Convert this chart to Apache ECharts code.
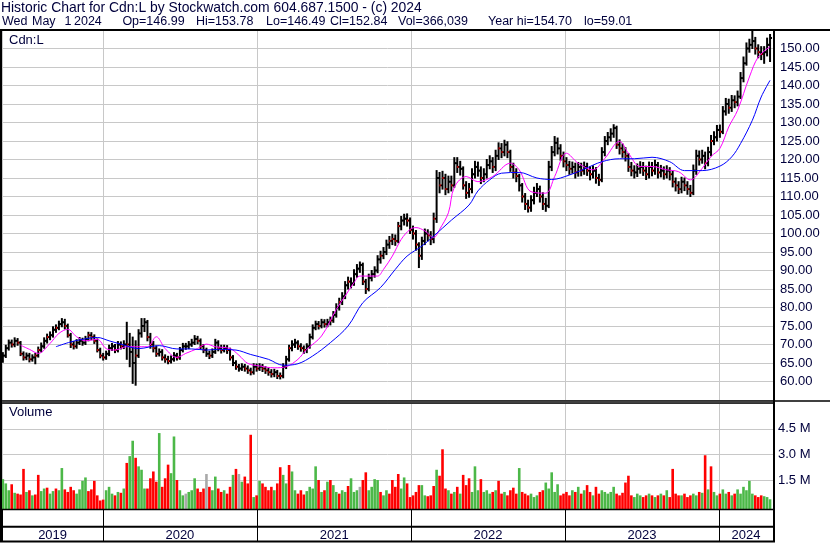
<!DOCTYPE html>
<html>
<head>
<meta charset="utf-8">
<title>Historic Chart for Cdn:L</title>
<script src="https://cdn.jsdelivr.net/npm/echarts@6/dist/echarts.min.js"></script>
<style>
  html, body { margin: 0; padding: 0; background: #fff; }
  #chart { width: 830px; height: 543px; }
</style>
</head>
<body>
<div id="chart"></div>
<script>
// weekly bars, first one in the week of 2019-05-08
const firstWeek = [2019, 4, 8]

const weekClose = [
  67, 69, 70.5, 70, 71, 70.5, 67.5, 66.5, 67, 66,
  66.5, 67, 68.5, 69.5, 71, 72, 72.5, 74, 74.5, 75.5,
  76, 75, 72.5, 70, 69.5, 70.5, 71, 70.5, 71.5, 72.5,
  72, 71, 68.5, 67, 66.5, 67.5, 69, 69.5, 68.5, 70,
  69.5, 70, 70, 68, 65, 67, 73, 75, 76, 72,
  70, 69, 67.5, 68, 66.5, 66, 65.5, 66, 67, 66.5,
  68.5, 69.5, 69.5, 70, 70.5, 71.5, 71, 69.5, 68.5, 67.5,
  67, 68, 70.5, 69, 68.5, 69, 68.5, 66.5, 65, 64,
  63.5, 64, 63.5, 63, 62.5, 64, 63.5, 64, 63.5, 63,
  62.5, 62, 62.5, 61.5, 61.5, 64, 66, 69, 70, 70.5,
  69.5, 69, 68.5, 69.5, 72, 74.5, 75.5, 75, 76, 75.5,
  76, 76.5, 78, 80, 81.5, 83, 86, 87, 86.5, 89,
  90.5, 91.5, 87, 85, 88, 89, 90, 93, 94, 95,
  97, 98, 98.5, 98, 102, 103.5, 104, 103.5, 101, 100,
  97, 94, 98, 100, 99.5, 98.5, 104, 115, 113, 115,
  112, 114, 113, 119, 118, 117.5, 113, 111, 112, 116,
  118, 117, 115, 116, 118.5, 119.5, 118, 121, 123, 122,
  124, 122, 118, 116.5, 115.5, 113, 110, 108, 107, 109,
  111, 112, 110, 108, 107.5, 118, 122, 124.5, 123, 121,
  119.5, 118.5, 117.5, 118, 116.5, 118, 117, 118, 117, 116,
  117, 115, 114.5, 122, 125, 126, 127, 128.5, 124, 123,
  122, 121, 118, 117, 116.5, 117.5, 118, 117, 116, 118,
  117, 118.5, 116.5, 117, 116, 117, 116, 114, 113, 112,
  114, 113, 112, 111, 117, 121, 120, 121, 119, 122,
  125, 126, 128, 127.5, 133, 135, 134, 136, 135.5, 137,
  142, 146, 150, 151, 152, 150, 149, 148.5, 149, 151,
  152.84
]

const weekLow = [
  65.2, 66.5, 68.5, 69.3, 69.4, 69.8, 67, 65.8, 65.9, 65.3,
  65.5, 64.8, 66.6, 68, 69, 70.4, 71.3, 72, 73.3, 74,
  74.8, 74.2, 72, 69.2, 68.8, 69, 70, 69.8, 70, 71,
  71.3, 70.3, 68, 66.4, 65.8, 66, 67, 68.4, 67.8, 68,
  68.8, 68.9, 66, 64, 59.5, 59, 66.5, 72, 73.5, 71,
  69, 68, 66.8, 66.9, 65.8, 65.2, 64.8, 65, 65.5, 65.8,
  66, 68, 68.7, 68.9, 69.5, 70, 70.2, 68.8, 67.8, 66.8,
  66.2, 66.5, 67.6, 68.3, 67.7, 68, 67.6, 65.8, 64.3, 63.3,
  62.8, 63, 62.8, 62.2, 61.8, 62, 62.8, 63, 62.7, 62.2,
  61.7, 61.2, 61.3, 60.8, 60.7, 61, 63.5, 65.5, 68.3, 69.2,
  68.7, 68.2, 67.6, 67.8, 69, 71.5, 74, 74.2, 74.5, 74.7,
  74.8, 75.3, 76, 77.4, 79.3, 80.8, 82.4, 85, 85.3, 86,
  88.2, 89.5, 86.2, 83.8, 84.5, 87.2, 88.2, 89.4, 92, 93.2,
  94.3, 96, 97, 96.8, 97.5, 101, 102.3, 102, 100, 98.5,
  95.5, 90.8, 93, 97, 98, 97, 97.5, 103, 111, 112,
  110.5, 111, 111.5, 112.5, 116.5, 115.8, 112, 109.5, 109.8, 111,
  115, 115.5, 113.5, 114, 115, 117.5, 116.5, 117, 120, 120.5,
  121, 120.5, 116.8, 115, 114, 111.5, 108.5, 106.5, 105.8, 106,
  108, 110, 108.5, 106.5, 106, 107, 117, 121, 121.5, 119.8,
  118, 117, 116, 116.3, 115, 115.5, 115.6, 116, 115.7, 114.5,
  115, 113.6, 113, 114, 121, 124, 125, 126, 123, 121.5,
  120.6, 119.6, 116.8, 115.6, 115, 115.4, 116.3, 115.7, 114.6, 115,
  115.6, 116, 115, 115.3, 114.7, 115, 114.5, 112.6, 111.5, 110.8,
  111, 111.6, 110.6, 110, 110.5, 116, 118.5, 119, 117.5, 118.3,
  121, 124, 125, 126, 127, 132, 132.5, 133, 134, 134.5,
  136.5, 141, 145.5, 149, 150, 148.5, 147.5, 147, 146, 148,
  146.49
]

const weekHigh = [
  67.8, 69.8, 71.2, 71.2, 71.8, 71.6, 70.8, 68, 67.7, 67.6,
  67.2, 67.6, 69.3, 70.4, 71.8, 72.8, 73.4, 74.8, 75.3, 76.3,
  77, 76.8, 75.5, 73, 70.8, 71.3, 71.9, 71.7, 72.2, 73.3,
  73.2, 72.6, 71.5, 69, 67.6, 68.2, 69.8, 70.3, 70, 70.8,
  70.7, 71, 76, 73, 72, 71, 74, 77, 77, 76.5,
  73, 70.8, 69.6, 68.8, 68.6, 67.2, 66.8, 66.9, 67.8, 67.6,
  69.2, 70.3, 70.3, 70.8, 71.4, 72.4, 72.2, 71.5, 70, 69,
  68.2, 68.8, 71.4, 71, 69.8, 69.8, 69.7, 69, 67, 65.6,
  64.6, 64.8, 64.6, 64.2, 63.6, 64.8, 64.7, 64.8, 64.6, 64,
  63.6, 63.2, 63.3, 63, 62.3, 64.8, 66.8, 69.8, 71, 71.4,
  71, 70.2, 69.6, 70.2, 72.8, 75.3, 76.3, 76.2, 76.8, 76.7,
  76.8, 77.4, 78.9, 81, 82.5, 84, 87, 88.2, 88, 90.2,
  91.6, 92.3, 92, 87.6, 89, 90, 91, 94, 95.2, 96.2,
  98.2, 99.2, 99.8, 99.6, 103, 104.6, 105.2, 105.3, 104.2, 102,
  100.8, 97.5, 99, 101.2, 101, 100.5, 105.5, 117, 116.5, 116.8,
  116, 115.5, 115.5, 120.5, 120.5, 119.5, 118, 114, 113.5, 117.5,
  119.5, 119.3, 118, 117.5, 120, 121, 120.5, 122.5, 124.5, 124.3,
  125.2, 124.8, 122.5, 119, 117.5, 116, 113.5, 110.8, 109, 110.2,
  112.5, 113.5, 112.8, 111, 109.5, 119.5, 123.5, 126.2, 125.8, 124,
  122, 120.5, 119.5, 119.3, 119, 119.2, 119, 119.3, 119, 118,
  118.3, 117.8, 116, 123.2, 126.2, 127.3, 128.3, 129.4, 129, 125.3,
  124.2, 123.2, 121.6, 119.2, 118.3, 118.8, 119.4, 119.2, 118.2, 119.3,
  119.2, 119.8, 119.2, 118.4, 118, 118.3, 117.8, 116.8, 115, 114,
  115.2, 115, 114, 113, 118.5, 122.5, 122.3, 122.5, 122, 123.3,
  126.5, 127.5, 129.2, 129.3, 134.3, 136.5, 136.3, 137.3, 137.2, 138.5,
  143.5, 147.7, 151.5, 152.5, 154.7, 153, 151, 150.5, 150.5, 152.8,
  153.78
]

// millions of shares
const weekVolume = [
  1.55, 1.3, 0.9, 1.25, 0.75, 0.7, 0.65, 2.15, 0.8, 0.9,
  0.6, 0.65, 1.8, 0.85, 1.0, 1.05, 0.7, 0.85, 1.0, 0.9,
  2.2, 0.95, 0.8, 1.1, 0.9, 0.7, 0.95, 1.45, 1.65, 0.85,
  0.95, 1.45, 0.6, 0.3, 0.35, 0.9, 1.1, 0.7, 0.6, 0.8,
  0.75, 1.0, 2.5, 2.9, 3.8, 2.8, 2.3, 2.1, 1.0, 1.0,
  1.6, 2.0, 1.4, 4.25, 1.1, 1.6, 2.4, 1.9, 4.05, 1.5,
  0.9, 0.6, 0.7, 0.8, 0.9, 1.6, 1.0, 0.8, 1.0, 1.85,
  1.1, 0.9, 1.7, 1.0, 0.8, 0.9, 0.7, 1.1, 1.8, 2.15,
  1.85, 1.4, 1.7, 1.3, 4.15, 0.5, 0.6, 1.45, 1.3, 1.1,
  0.9, 1.1, 0.9, 1.3, 2.25, 1.8, 1.3, 2.38, 2.0, 0.9,
  0.7, 0.9, 0.65, 0.85, 1.1, 1.0, 2.3, 1.5, 0.8, 0.9,
  1.4, 1.5, 1.2, 0.8, 0.7, 0.9, 0.8, 1.15, 1.6, 0.8,
  0.9, 1.1, 1.5, 1.95, 0.9, 1.1, 1.55, 1.5, 0.8, 0.6,
  0.9, 0.7, 1.5, 1.1, 1.85, 1.0, 1.65, 1.3, 0.5, 0.6,
  0.8, 1.2, 1.2, 0.6, 0.55, 0.6, 1.15, 2.1, 1.75, 3.3,
  1.0, 0.9, 0.7, 0.8, 1.1, 0.7, 1.8, 1.2, 1.6, 0.8,
  2.3, 0.9, 1.55, 0.8, 0.9, 0.7, 0.8, 0.9, 1.45, 0.7,
  0.8, 0.6, 0.9, 1.05, 0.7, 2.2, 0.8, 0.7, 0.6, 0.7,
  0.5, 0.6, 0.8, 0.9, 1.35, 1.0, 1.95, 0.8, 1.25, 0.6,
  0.7, 0.8, 0.6, 0.9, 0.8, 1.1, 0.7, 0.9, 1.2, 0.8,
  0.6, 1.1, 0.7, 0.9, 0.8, 0.7, 0.8, 1.1, 0.7, 0.6,
  0.75, 1.35, 1.75, 0.6, 0.5, 0.7, 0.6, 0.5, 0.6, 0.7,
  0.6, 0.5, 0.6, 0.7, 0.6, 0.9, 0.5, 2.15, 0.7, 0.6,
  0.6, 0.7, 0.5, 0.6, 0.7, 0.6, 0.8, 0.75, 2.95, 0.95,
  2.3, 0.8, 0.6, 0.7, 0.95, 0.7, 0.8, 0.6, 0.7, 0.95,
  0.7, 1.1, 0.9, 1.45, 0.7, 0.6, 0.5, 0.6, 0.55, 0.5,
  0.37
]

// u = up, d = down, n = unchanged (volume bar colour)
const weekDir = ('uuududddud udduuduudu udddduuuud ddddduuudu duduuduuud ' +
  'ddduddduud uunuuudddn duudduddud nudddududd ddudduuduu ' +
  'ddduuuudud uduuduuduu undduuuudu udddduuddd dduudddudd ' +
  'dudududddu uuduuududd uddddudddu uudduuuuud dddudududd ' +
  'udduuuuudd dddduuuddu dudududddd uddduududu duuduududu ' +
  'uuuuuddduu u').replace(/ /g, '').split('')

// moving averages: week index -> value
const maFastWeek = [6, 9, 12, 16, 19, 22, 25, 28, 32, 35, 38, 42, 45, 49, 52, 55, 59, 62, 66, 69,
  72, 77, 80, 83, 87, 92, 96, 100, 103, 108, 113, 116, 119, 121, 125, 127, 129, 132, 135, 138,
  140, 143, 146, 148, 151, 153, 157, 161, 166, 172, 175, 179, 184, 187, 191, 195, 200, 204, 209, 212,
  216, 220, 225, 229, 233, 237, 240, 243, 246, 249, 253, 256, 260]
const maFastValue = [69.8, 68.7, 67.6, 70.3, 73, 74.1, 72.1, 71, 71.4, 68.9, 68.5, 69.4, 69.4, 69.4, 72.1, 68.9, 66.5, 67.6, 68.9, 70.1,
  69.4, 68.9, 67.1, 64.9, 64.2, 63.7, 64, 66, 68.7, 72.3, 79.5, 83.1, 86.7, 88.5, 88.5, 88.5, 90.3, 93.9, 98.4, 101.1,
  101.6, 100.7, 98.9, 101.1, 105.6, 112.5, 115.4, 114, 115.4, 119, 117.2, 111.3, 110.9, 115.4, 121.7, 119, 117.2, 120.3, 124.9, 121.7,
  118.1, 118.1, 117.2, 116.7, 114.5, 117.6, 120.8, 123, 128.8, 133.3, 142.3, 147.7, 150.5]

const maSlowWeek = [18, 23, 27, 32, 36, 40, 46, 53, 59, 64, 69, 73, 79, 84, 90, 95, 100, 105, 111, 117,
  122, 128, 133, 137, 142, 146, 152, 158, 161, 165, 169, 175, 181, 186, 192, 197, 203, 209, 214, 220,
  226, 231, 237, 243, 247, 250, 254, 257, 260]
const maSlowValue = [69.4, 70.7, 71.4, 71.9, 71, 70.1, 68.9, 69.7, 68.8, 68.8, 68.5, 68.7, 68.5, 67.3, 66, 64.4, 64.8, 66.9, 70.5, 75,
  81.3, 85.4, 90.3, 93.9, 96.6, 99.3, 103.6, 107.7, 111.5, 114.5, 116.3, 116.5, 115, 114.6, 115.8, 117.4, 119.4, 120.2, 120.2, 120.6,
  119.4, 117, 117, 118.2, 120.7, 124.3, 130.6, 136.9, 141.4]

const yearLabels = ['2019', '2020', '2021', '2022', '2023', '2024']
const yearLabelDates = ['2019-09-03', '2020-07-01', '2021-07-02', '2022-07-02', '2023-07-02', '2024-03-05']

const headerLine1 = 'Historic Chart for Cdn:L by Stockwatch.com 604.687.1500 - (c) 2024'
const headerFields = ['Wed', 'May', '1', '2024', 'Op=146.99', 'Hi=153.78', 'Lo=146.49', 'Cl=152.84', 'Vol=366,039', 'Year hi=154.70', 'lo=59.01']
const headerFieldX = [2, 32, 64.5, 74, 122.4, 196, 266, 330, 398, 488, 584]

const FONT = "'Liberation Sans', Arial, sans-serif"
const INK = '#00003c'
const GRID_GRAY = '#c8c8c8'
const VOL_COLORS = { u: '#4cb848', d: '#ff0000', n: '#a9a9a9' }

const weekDates = weekClose.map((_, i) => +new Date(firstWeek[0], firstWeek[1], firstWeek[2] + 7 * i))
const xMin = +new Date(2019, 4, 6)
const xMax = +new Date(2024, 4, 8)

function renderOhlc(params, api) {
  const t = api.value(0)
  const lo = api.coord([t, api.value(1)])
  const hi = api.coord([t, api.value(2)])
  const cl = api.coord([t, api.value(3)])
  const op = api.coord([t, api.value(4)])
  const down = weekDir[params.dataIndex] === 'd'
  return {
    type: 'group',
    children: [
      { type: 'line', shape: { x1: hi[0], y1: hi[1] - 0.5, x2: lo[0], y2: lo[1] + 0.5 }, style: { stroke: '#000', lineWidth: 2 } },
      { type: 'line', shape: { x1: op[0] - 2, y1: op[1], x2: op[0], y2: op[1] }, style: { stroke: '#000', lineWidth: 1.5 } },
      { type: 'line', shape: { x1: cl[0], y1: cl[1], x2: cl[0] + 2, y2: cl[1] }, style: { stroke: down ? '#ff0000' : '#000', lineWidth: 2 } },
    ],
  }
}

function renderVolume(params, api) {
  const top = api.coord([api.value(0), api.value(1)])
  const base = params.coordSys.y + params.coordSys.height + 3.5
  return {
    type: 'rect',
    shape: { x: top[0] - 1.3, y: top[1], width: 2.6, height: base - top[1] },
    style: { fill: VOL_COLORS[weekDir[params.dataIndex]] },
  }
}

function renderYear(params, api) {
  const p = api.coord([api.value(0), api.value(1)])
  return {
    type: 'text',
    x: p[0],
    y: p[1],
    style: { text: yearLabels[params.dataIndex], align: 'center', verticalAlign: 'middle', fontSize: 13, fontFamily: FONT, fill: INK },
  }
}

function timeAxis(gridIndex, splitColor) {
  return {
    type: 'time',
    gridIndex,
    min: xMin,
    max: xMax,
    minInterval: 365 * 86400000,
    axisLine: { show: false },
    axisTick: { show: false },
    axisLabel: { show: false },
    splitLine: { show: true, lineStyle: { color: splitColor, width: 1 } },
  }
}

function frameLine(x1, y1, x2, y2, w) {
  return { type: 'line', z: 100, shape: { x1, y1, x2, y2 }, style: { stroke: '#000', lineWidth: w } }
}

const chart = echarts.init(document.getElementById('chart'), null, { renderer: 'canvas' })

chart.setOption({
  animation: false,
  backgroundColor: '#fff',
  title: {
    text: headerLine1,
    left: 1,
    top: 1,
    padding: 0,
    textStyle: { fontFamily: FONT, fontSize: 13.9, fontWeight: 'normal', color: INK, lineHeight: 14 },
  },
  grid: [
    { left: 2, width: 771, top: 30, height: 370 },
    { left: 2, width: 771, top: 403.2, height: 102.4 },
    { left: 2, width: 771, top: 509.5, height: 32 },
  ],
  xAxis: [timeAxis(0, GRID_GRAY), timeAxis(1, GRID_GRAY), timeAxis(2, '#000')],
  yAxis: [
    {
      type: 'value',
      gridIndex: 0,
      position: 'right',
      min: 55,
      max: 155,
      interval: 5,
      axisLine: { show: false },
      axisTick: { show: false },
      axisLabel: {
        margin: 7,
        color: INK,
        fontFamily: FONT,
        fontSize: 13,
        formatter: (v) => (v > 55 && v < 155 ? v.toFixed(2) : ''),
      },
      splitLine: { lineStyle: { color: GRID_GRAY, width: 1 } },
    },
    {
      type: 'value',
      gridIndex: 1,
      position: 'right',
      min: 0,
      max: 6,
      interval: 1.5,
      axisLine: { show: false },
      axisTick: { show: false },
      axisLabel: {
        margin: 5,
        color: INK,
        fontFamily: FONT,
        fontSize: 13,
        formatter: (v) => (v > 0 && v < 6 ? v.toFixed(1) + ' M' : ''),
      },
      splitLine: { showMinLine: false, lineStyle: { color: GRID_GRAY, width: 1 } },
    },
    { type: 'value', gridIndex: 2, min: 0, max: 1, show: false },
  ],
  series: [
    {
      name: 'Cdn:L',
      type: 'custom',
      xAxisIndex: 0,
      yAxisIndex: 0,
      renderItem: renderOhlc,
      encode: { x: 0, y: [1, 2, 3] },
      data: weekDates.map((t, i) => [t, weekLow[i], weekHigh[i], weekClose[i], i > 0 ? weekClose[i - 1] : weekClose[0]]),
    },
    {
      name: 'MA fast',
      type: 'line',
      xAxisIndex: 0,
      yAxisIndex: 0,
      showSymbol: false,
      smooth: 0.35,
      lineStyle: { color: '#ff00ff', width: 1 },
      data: maFastWeek.map((w, k) => [weekDates[w], maFastValue[k]]),
    },
    {
      name: 'MA slow',
      type: 'line',
      xAxisIndex: 0,
      yAxisIndex: 0,
      showSymbol: false,
      smooth: 0.35,
      lineStyle: { color: '#0000ff', width: 1 },
      data: maSlowWeek.map((w, k) => [weekDates[w], maSlowValue[k]]),
    },
    {
      name: 'Volume',
      type: 'custom',
      xAxisIndex: 1,
      yAxisIndex: 1,
      renderItem: renderVolume,
      encode: { x: 0, y: 1 },
      data: weekDates.map((t, i) => [t, weekVolume[i]]),
    },
    {
      name: 'Years',
      type: 'custom',
      xAxisIndex: 2,
      yAxisIndex: 2,
      renderItem: renderYear,
      data: yearLabelDates.map((d) => [+new Date(d + 'T00:00:00'), 0.2]),
    },
  ],
  graphic: [
    frameLine(0, 30, 830, 30, 2),
    frameLine(1, 30, 1, 542, 2),
    frameLine(774, 30, 774, 542, 2),
    frameLine(0, 541.5, 775, 541.5, 2),
    frameLine(0, 401, 830, 401, 1.3),
    frameLine(0, 403, 774, 403, 1.3),
    frameLine(0, 509.5, 774, 509.5, 1.6),
    frameLine(0, 526.7, 774, 526.7, 2),
    ...headerFields.map((text, k) => ({
      type: 'text', z: 100, x: headerFieldX[k], y: 22,
      style: { text, fontSize: 12.5, fontFamily: FONT, fill: INK, verticalAlign: 'middle' },
    })),
    { type: 'text', z: 100, left: 9, top: 34, style: { text: 'Cdn:L', fontSize: 13, fontFamily: FONT, fill: INK } },
    { type: 'text', z: 100, left: 9, top: 406, style: { text: 'Volume', fontSize: 13, fontFamily: FONT, fill: INK } },
  ],
})
</script>
</body>
</html>
